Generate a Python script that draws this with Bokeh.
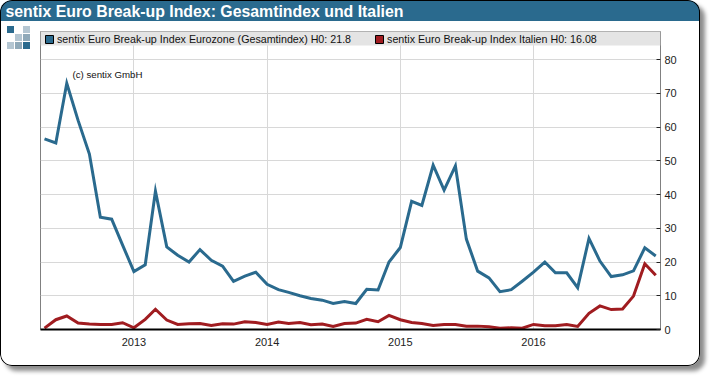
from bokeh.plotting import figure
from bokeh.embed import file_html
from bokeh.resources import INLINE
from bokeh.models import (BoxAnnotation, Label, Legend, LegendItem, FixedTicker, LinearAxis,
                          Range1d, DatetimeTickFormatter, Title)
from datetime import datetime

TITLE = "sentix Euro Break-up Index: Gesamtindex und Italien"
NOTE = "(c) sentix GmbH"
NAME_EURO = "sentix Euro Break-up Index Eurozone (Gesamtindex) H0: 21.8"
NAME_ITALY = "sentix Euro Break-up Index Italien H0: 16.08"
years = [2013, 2014, 2015, 2016]
y_ticks = [10, 20, 30, 40, 50, 60, 70, 80]
first_year, first_month = 2012, 5
eurozone = [56.5, 55.3, 73, 62, 52, 33.3, 32.7, 25,
            17.2, 19.2, 41, 24.5, 22, 20, 23.7, 20.5, 18.8, 14.3, 15.8, 17,
            13.4, 11.8, 11, 10, 9.2, 8.7, 7.7, 8.3, 7.7, 11.9, 11.7, 20,
            24.3, 38, 36.8, 48.7, 41.3, 48.5, 26.8, 17.3, 15.3, 11.2, 11.8, 14.3,
            17, 20, 16.8, 16.8, 12.4, 27, 20.3, 15.7, 16.2, 17.4, 24.2, 21.8]
italy = [0.4, 2.9, 4, 1.9, 1.6, 1.5, 1.5, 2.0,
         0.5, 3, 6, 2.8, 1.5, 1.7, 1.8, 1.2, 1.7, 1.6, 2.3, 2.1,
         1.5, 2.2, 1.8, 2.1, 1.4, 1.6, 0.9, 1.8, 1.9, 3.0, 2.3, 4.2,
         2.9, 2.1, 1.8, 1.2, 1.5, 1.5, 1, 1, 0.8, 0.4, 0.5, 0.4,
         1.5, 1.1, 1.1, 1.5, 0.9, 4.8, 7, 5.9, 6.1, 9.9, 19.5, 16.08]

dates = [datetime(first_year + (first_month - 1 + i) // 12, (first_month - 1 + i) % 12 + 1, 1)
         for i in range(len(eurozone))]

BLUE = "#2a6a8e"
RED = "#a01c20"
FONT = "Liberation Sans"
W, H = 700, 366
L, T, R, B = 40, 30, 660, 329


def square(c, x, y):
    return f"linear-gradient({c},{c}) {x}px {y}px / 7px 7px no-repeat"


logo = [square(c, 7 + i * 8, 26 + j * 8) for i, j, c in
        [(0, 0, BLUE), (2, 0, "#b4c6d2"), (1, 1, "#b4c6d2"), (2, 1, "#8fa9b9"),
         (0, 2, "#b4c6d2"), (1, 2, "#8fa9b9"), (2, 2, BLUE)]]
card_css = {
    "background": ", ".join(logo + [f"linear-gradient({BLUE},{BLUE}) 0 0 / 100% 21px no-repeat",
                                    "#ffffff"]),
    "border-radius": "12px",
    "box-shadow": "inset 0 0 0 1px #000000, 5px 5px 4px rgba(0,0,0,0.45)",
}

p = figure(width=W, height=H, output_backend="svg", toolbar_location=None,
           x_axis_type="datetime", y_axis_location=None,
           x_range=Range1d(datetime(2012, 4, 20), datetime(2016, 12, 14)),
           y_range=Range1d(0, 88.35),
           min_border_left=L, min_border_top=T, min_border_right=W - R, min_border_bottom=H - B,
           background_fill_color=None, border_fill_color=None, margin=0,
           styles=card_css)

p.title = Title(text=TITLE, align="left", offset=-35, standoff=0, text_color="#ffffff",
                text_font=FONT, text_font_size="15.85px", text_font_style="bold")
# thin blank panel between the title and the frame lifts the title into the header band
p.add_layout(Title(text=" ", text_font_size="1px", standoff=9), "above")

# legend strip (coordinates relative to the frame)
p.add_layout(BoxAnnotation(left=0, right=R - L, top=B - T, bottom=B - 45, left_units="screen",
                           right_units="screen", top_units="screen", bottom_units="screen",
                           fill_color="#e4e4e4", fill_alpha=1, line_alpha=0, level="underlay",
                           editable=False))

year_ticks = [datetime(y, 1, 1).timestamp() * 1000 for y in years]
p.xgrid.grid_line_color = "#d8d8d8"
p.ygrid.grid_line_color = "#d8d8d8"
p.xgrid.ticker = FixedTicker(ticks=year_ticks)
p.ygrid.ticker = FixedTicker(ticks=y_ticks)
p.outline_line_color = "#808080"
p.outline_line_width = 1

xa = p.xaxis[0]
xa.ticker = FixedTicker(ticks=year_ticks)
xa.formatter = DatetimeTickFormatter(years="%Y", months="%Y", days="%Y", hours="%Y")
xa.axis_line_color = "#000000"
xa.axis_line_width = 2
xa.major_tick_line_color = None
xa.minor_tick_line_color = None
xa.major_label_text_font = FONT
xa.major_label_text_font_size = "11px"
xa.major_label_text_color = "#222222"
xa.major_label_standoff = 2

ya = LinearAxis(ticker=FixedTicker(ticks=[0] + y_ticks))
ya.axis_line_color = None
ya.major_tick_in = 4
ya.major_tick_out = 0
ya.major_tick_line_color = "#222222"
ya.minor_tick_line_color = None
ya.major_label_text_font = FONT
ya.major_label_text_font_size = "11px"
ya.major_label_text_color = "#222222"
ya.major_label_standoff = 4
p.add_layout(ya, "right")

p.line(dates, eurozone, line_color=BLUE, line_width=3, line_join="miter")
p.line(dates, italy, line_color=RED, line_width=3, line_join="miter")

nan = float("nan")
s1 = p.quad(left=[dates[0]], right=[dates[0]], top=[nan], bottom=[nan], fill_color=BLUE, line_color="#000000")
s2 = p.quad(left=[dates[0]], right=[dates[0]], top=[nan], bottom=[nan], fill_color=RED, line_color="#000000")
leg = Legend(items=[LegendItem(label=NAME_EURO, renderers=[s1]), LegendItem(label=NAME_ITALY, renderers=[s2])],
             orientation="horizontal", location=(4, B - T - 15), background_fill_alpha=0, border_line_color=None,
             label_text_font=FONT, label_text_font_size="10.7px", label_text_color="#111111",
             glyph_width=10, glyph_height=10, spacing=23, padding=0, margin=0, label_standoff=3,
             label_height=12)
p.add_layout(leg, "center")

p.add_layout(Label(x=72 - L, y=B - 79, x_units="screen", y_units="screen", text=NOTE, text_font=FONT,
                   text_font_size="9.7px", text_color="#111111"))

open("out.html", "w").write(file_html(p, INLINE))
